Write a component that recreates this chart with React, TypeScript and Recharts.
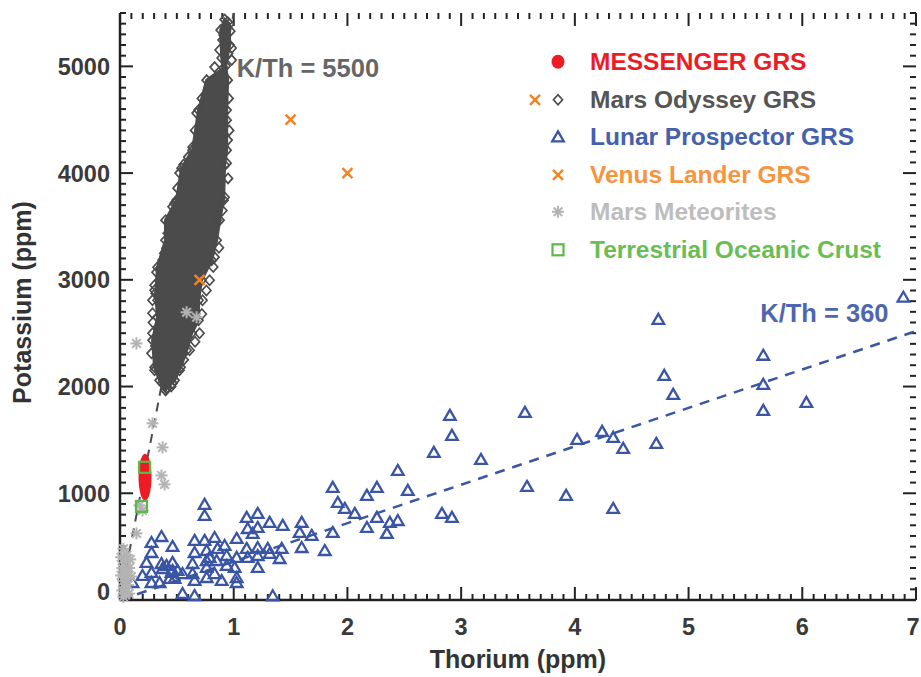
import { Legend, ReferenceDot, Scatter, ScatterChart, XAxis, YAxis } from "recharts";

const FONT = '"Liberation Sans", Arial, Helvetica, sans-serif';
const AXIS = "#222";
const TICK_TEXT = "#3a3a3a";

const RED = "#ed1c24";
const GRAY = "#4b4b4b";
const BLUE = "#3a55a5";
const ORANGE = "#f58220";
const LIGHT = "#b3b3b3";
const GREEN = "#5bb947";

// axes
const TH_DOMAIN = [0, 7];
const K_DOMAIN = [0, 5500];
const TH_MAJOR = [0, 1, 2, 3, 4, 5, 6, 7];
const K_MAJOR = [0, 1000, 2000, 3000, 4000, 5000];
const TH_TICKS = Array.from({ length: 71 }, (_, i) => i / 10);
const K_TICKS = Array.from({ length: 56 }, (_, i) => i * 100);

// K/Th ratios of the two reference lines
const KTH_MARS = 5500;
const KTH_MOON = 360;

// [Th, K]
const MESSENGER = [[0.22, 1150]];

// outline of the dense Mars Odyssey cloud
const ODYSSEY_CORE = [
  [0.41, 1983], [0.48, 2058], [0.533, 2180], [0.586, 2340], [0.63, 2499], [0.691, 2621],
  [0.691, 2809], [0.717, 2996], [0.806, 3184], [0.85, 3371], [0.876, 3559], [0.911, 3746],
  [0.92, 4074], [0.938, 4215], [0.938, 4590], [0.947, 4871], [0.929, 5003], [0.964, 5200],
  [0.962, 5397], [0.92, 5440], [0.885, 5340], [0.894, 5078], [0.911, 4984], [0.762, 4871],
  [0.691, 4590], [0.638, 4215], [0.541, 4046], [0.497, 3746], [0.4, 3559], [0.4, 3371],
  [0.33, 3118], [0.313, 2874], [0.33, 2649], [0.286, 2433], [0.304, 2180], [0.348, 2058],
  [0.401, 1964],
];

// single diamonds sticking out of the cloud
const ODYSSEY_EDGE = [
  [0.832, 4993], [0.858, 4890], [0.674, 4562], [0.638, 4243], [0.524, 4000], [0.506, 3859],
  [0.48, 3718], [0.436, 3399], [0.409, 3296], [0.365, 3118], [0.321, 3071], [0.304, 2902],
  [0.33, 2809], [0.286, 2687], [0.286, 2499], [0.277, 2311], [0.304, 2152], [0.374, 2030],
  [0.462, 2030], [0.982, 5172], [0.938, 4496], [0.947, 4309], [0.938, 4093], [0.92, 3774],
  [0.85, 3559], [0.832, 3212], [0.788, 2996], [0.726, 2809], [0.7, 2499], [0.612, 2340],
  [0.524, 2152], [0.947, 5416], [0.911, 5294], [0.982, 5059], [0.876, 5153], [0.902, 5247],
  [0.374, 3184], [0.304, 2949], [0.348, 2865], [0.286, 2809], [0.462, 3684], [0.497, 3730],
  [0.42, 3437], [0.6, 4150], [0.56, 4080], [0.66, 4400], [0.72, 4700], [0.79, 4820],
  [0.955, 4700], [0.96, 4400], [0.95, 3950], [0.9, 3650], [0.87, 3300], [0.82, 3120],
  [0.76, 2900], [0.72, 2680], [0.66, 2420], [0.56, 2250], [0.45, 2000], [0.29, 2600],
  [0.31, 2380], [0.35, 3000], [0.39, 3250], [0.45, 3550], [0.97, 5330], [0.95, 5120],
];

const LUNAR = [
  [0.744, 896], [0.744, 792], [0.277, 539], [0.365, 595], [0.462, 502], [0.277, 445],
  [0.233, 352], [0.198, 230], [0.11, 164], [0.277, 258], [0.277, 164], [0.348, 164],
  [0.365, 342], [0.409, 324], [0.453, 258], [0.48, 202], [0.436, 202], [0.506, 277],
  [0.55, 248], [0.55, 61], [0.656, 42], [0.656, 558], [0.656, 445], [0.638, 342],
  [0.638, 248], [0.656, 183], [0.744, 558], [0.762, 464], [0.762, 370], [0.762, 305],
  [0.762, 211], [0.832, 586], [0.858, 483], [0.85, 370], [0.832, 248], [0.92, 511],
  [0.938, 417], [0.938, 324], [0.894, 183], [1.026, 577], [1.026, 399], [1.008, 305],
  [1.026, 211], [1.026, 164], [1.114, 774], [1.123, 670], [1.211, 811], [1.211, 680],
  [1.167, 624], [1.114, 483], [1.123, 399], [1.211, 492], [1.211, 417], [1.211, 305],
  [1.316, 727], [1.299, 483], [1.316, 436], [1.343, 40], [1.422, 483], [1.404, 389],
  [1.431, 699], [1.598, 727], [1.58, 633], [1.598, 492], [1.686, 605], [1.801, 464],
  [1.871, 1055], [1.915, 914], [1.977, 858], [1.871, 633], [2.065, 811], [2.171, 980],
  [2.259, 1055], [2.171, 680], [2.259, 774], [2.443, 1214], [2.531, 1027], [2.373, 727],
  [2.443, 745], [2.347, 624], [2.76, 1383], [2.901, 1730], [2.919, 1543], [2.831, 811],
  [2.919, 774], [3.174, 1317], [3.561, 1758], [3.579, 1064], [3.923, 980], [4.02, 1505],
  [4.24, 1580], [4.337, 1524], [4.425, 1421], [4.337, 858], [4.716, 1467], [4.734, 2630],
  [4.786, 2105], [4.865, 1927], [5.657, 2293], [5.657, 2021], [5.657, 1777], [6.036, 1852],
  [6.889, 2837], [0.374, 295], [0.462, 352], [0.462, 277], [0.788, 399],
];

const VENUS = [[1.5, 4500], [2.0, 4000], [0.7, 3000]];

const METEORITES = [
  [0.145, 2404], [0.586, 2696], [0.674, 2649], [0.286, 1655], [0.374, 1430], [0.365, 1167],
  [0.392, 1083], [0.198, 839], [0.145, 624], [0.172, 886], [0.02, 90], [0.03, 180],
  [0.05, 260], [0.04, 350], [0.06, 420], [0.08, 300], [0.03, 480], [0.07, 140],
  [0.1, 220], [0.02, 300], [0.05, 60], [0.09, 380], [0.01, 230], [0.06, 200], [0.04, 120],
  [0.01, 400], [0.03, 30], [0.08, 60],
];

const OCEANIC_CRUST = [[0.216, 1243], [0.189, 877]];

const toPts = (rows: number[][]) => rows.map(([th, k]) => ({ th, k }));
const MARS_LINE = toPts([[0, 0], [1, KTH_MARS]]);
const MOON_LINE = toPts([[0, 0], [7, 7 * KTH_MOON]]);
const CORE = toPts([...ODYSSEY_CORE, ODYSSEY_CORE[0]]);

// inward tick marks on all four sides of the frame
const BOTTOM_MARKS = TH_TICKS.map((th) => ({ th, k: K_DOMAIN[0] }));
const TOP_MARKS = TH_TICKS.map((th) => ({ th, k: K_DOMAIN[1] }));
const LEFT_MARKS = K_TICKS.map((k) => ({ th: TH_DOMAIN[0], k }));
const RIGHT_MARKS = K_TICKS.map((k) => ({ th: TH_DOMAIN[1], k }));

const LEGEND = [
  { label: "MESSENGER GRS", text: RED, marker: "dot" },
  { label: "Mars Odyssey GRS", text: "#555", marker: "diamond" },
  { label: "Lunar Prospector GRS", text: "#4560ad", marker: "triangle" },
  { label: "Venus Lander GRS", text: "#f7943f", marker: "cross" },
  { label: "Mars Meteorites", text: "#bdbdbd", marker: "star" },
  { label: "Terrestrial Oceanic Crust", text: "#6abd54", marker: "square" },
];

const near = (list: number[], v: number) => list.some((m) => Math.abs(m - v) < 1e-6);

function Marker({ kind, cx, cy }: { kind: string; cx: number; cy: number }) {
  switch (kind) {
    case "dot":
      return <ellipse cx={cx} cy={cy} rx={6.5} ry={7} fill={RED} />;
    case "diamond":
      return (
        <polygon
          points={`${cx},${cy - 5} ${cx + 4.5},${cy} ${cx},${cy + 5} ${cx - 4.5},${cy}`}
          fill="none"
          stroke={GRAY}
          strokeWidth={1.7}
        />
      );
    case "triangle":
      return (
        <polygon
          points={`${cx},${cy - 5.5} ${cx + 5.8},${cy + 4.5} ${cx - 5.8},${cy + 4.5}`}
          fill="none"
          stroke={BLUE}
          strokeWidth={2.3}
        />
      );
    case "cross":
      return (
        <g stroke={ORANGE} strokeWidth={2.5}>
          <line x1={cx - 5} y1={cy - 5} x2={cx + 5} y2={cy + 5} />
          <line x1={cx - 5} y1={cy + 5} x2={cx + 5} y2={cy - 5} />
        </g>
      );
    case "star":
      return (
        <g stroke={LIGHT} strokeWidth={2}>
          <line x1={cx - 6} y1={cy} x2={cx + 6} y2={cy} />
          <line x1={cx} y1={cy - 6} x2={cx} y2={cy + 6} />
          <line x1={cx - 4.3} y1={cy - 4.3} x2={cx + 4.3} y2={cy + 4.3} />
          <line x1={cx - 4.3} y1={cy + 4.3} x2={cx + 4.3} y2={cy - 4.3} />
        </g>
      );
    case "square":
      return <rect x={cx - 5.5} y={cy - 5.5} width={11} height={11} fill="none" stroke={GREEN} strokeWidth={2.2} />;
    default:
      return <g />;
  }
}

const shapeOf = (kind: string) => (p: any) => <Marker kind={kind} cx={p.cx} cy={p.cy} />;

// tick mark pointing into the plot; dx/dy give the direction
const tickMark = (dx: number, dy: number, axis: "th" | "k") => (p: any) => {
  const major = near(axis === "th" ? TH_MAJOR : K_MAJOR, p.payload[axis]);
  const len = major ? 13 : 6;
  return <line x1={p.cx} y1={p.cy} x2={p.cx + dx * len} y2={p.cy + dy * len} stroke={AXIS} strokeWidth={2} />;
};

function LegendBox() {
  return (
    <div style={{ fontFamily: FONT, fontWeight: 700, fontSize: 24.5 }}>
      {LEGEND.map((item) => (
        <div key={item.label} style={{ display: "flex", alignItems: "center", height: 37.6, color: item.text }}>
          <svg width={70} height={37.6} style={{ flex: "none" }}>
            {item.marker === "diamond" && <Marker kind="cross" cx={15} cy={18.8} />}
            <Marker kind={item.marker} cx={38} cy={18.8} />
          </svg>
          <span style={{ lineHeight: "37.6px", whiteSpace: "nowrap" }}>{item.label}</span>
        </div>
      ))}
    </div>
  );
}

const tickText = { fill: TICK_TEXT, fontSize: 23.5, fontWeight: 700, fontFamily: FONT };

function BottomLabel({ x, y, payload }: any) {
  if (!near(TH_MAJOR, payload.value)) return <g />;
  const v = Math.round(payload.value);
  return (
    <text x={v === TH_DOMAIN[1] ? x - 3 : x} y={y + 35} textAnchor="middle" {...tickText}>
      {v}
    </text>
  );
}

function LeftLabel({ x, y, payload }: any) {
  if (!near(K_MAJOR, payload.value)) return <g />;
  return (
    <text x={x - 10} y={payload.value === 0 ? y : y + 8.5} textAnchor="end" {...tickText}>
      {payload.value}
    </text>
  );
}

const axisLine = { stroke: AXIS, strokeWidth: 2.5 };
const labelFont = { fontSize: 25.5, fontWeight: 700, fontFamily: FONT };
const axisCommon = { type: "number" as const, interval: 0, tickLine: false, tickSize: 0, tickMargin: 0, axisLine };

export default function App() {
  return (
    <div style={{ width: 921, height: 677 }}>
      <style>{"body{margin:0}"}</style>
      <ScatterChart width={921} height={677} margin={{ top: 13, right: 5, bottom: 0, left: 0 }}>
        <XAxis
          {...axisCommon}
          dataKey="th"
          domain={TH_DOMAIN}
          ticks={TH_TICKS}
          tick={(p: any) => <BottomLabel {...p} />}
          height={77}
          label={{
            content: ({ viewBox }: any) => (
              <text
                x={viewBox.x + viewBox.width / 2}
                y={viewBox.y + 68}
                textAnchor="middle"
                fill="#333"
                fontSize={25}
                fontWeight={700}
                fontFamily={FONT}
              >
                Thorium (ppm)
              </text>
            ),
          }}
        />
        <XAxis
          {...axisCommon}
          xAxisId="top"
          orientation="top"
          domain={TH_DOMAIN}
          ticks={TH_TICKS}
          tick={false}
          height={0}
          allowDataOverflow
        />
        <YAxis
          {...axisCommon}
          dataKey="k"
          domain={K_DOMAIN}
          ticks={K_TICKS}
          tick={(p: any) => <LeftLabel {...p} />}
          width={120}
          label={{
            content: ({ viewBox }: any) => {
              const cx = viewBox.x + 22;
              const cy = viewBox.y + viewBox.height / 2 - 4;
              return (
                <text
                  x={cx}
                  y={cy}
                  transform={`rotate(-90, ${cx}, ${cy})`}
                  textAnchor="middle"
                  dominantBaseline="central"
                  fill="#333"
                  fontSize={25}
                  fontWeight={700}
                  fontFamily={FONT}
                >
                  Potassium (ppm)
                </text>
              );
            },
          }}
        />
        <YAxis
          {...axisCommon}
          yAxisId="right"
          orientation="right"
          domain={K_DOMAIN}
          ticks={K_TICKS}
          tick={false}
          width={0}
          allowDataOverflow
        />

        <Scatter data={BOTTOM_MARKS} shape={tickMark(0, -1, "th")} isAnimationActive={false} />
        <Scatter data={TOP_MARKS} shape={tickMark(0, 1, "th")} isAnimationActive={false} />
        <Scatter data={LEFT_MARKS} shape={tickMark(1, 0, "k")} isAnimationActive={false} />
        <Scatter data={RIGHT_MARKS} shape={tickMark(-1, 0, "k")} isAnimationActive={false} />

        <Scatter
          data={MARS_LINE}
          line={{ stroke: GRAY, strokeWidth: 2, strokeDasharray: "9 7" }}
          lineType="joint"
          shape={() => <g />}
          isAnimationActive={false}
        />
        <Scatter
          data={MOON_LINE}
          line={{ stroke: BLUE, strokeWidth: 2.5, strokeDasharray: "10 8" }}
          lineType="joint"
          shape={() => <g />}
          isAnimationActive={false}
        />
        <Scatter
          data={CORE}
          line={{ stroke: GRAY, strokeWidth: 3, fill: GRAY }}
          lineType="joint"
          shape={shapeOf("diamond")}
          isAnimationActive={false}
        />
        <Scatter data={toPts(ODYSSEY_EDGE)} shape={shapeOf("diamond")} isAnimationActive={false} />
        <Scatter data={toPts(LUNAR)} shape={shapeOf("triangle")} isAnimationActive={false} />
        <Scatter data={toPts(METEORITES)} shape={shapeOf("star")} isAnimationActive={false} />
        <Scatter data={toPts(VENUS)} shape={shapeOf("cross")} isAnimationActive={false} />
        <Scatter
          data={toPts(MESSENGER)}
          shape={(p: any) => <ellipse cx={p.cx} cy={p.cy} rx={6.5} ry={23.5} fill={RED} />}
          isAnimationActive={false}
        />
        <Scatter data={toPts(OCEANIC_CRUST)} shape={shapeOf("square")} isAnimationActive={false} />

        <ReferenceDot
          x={1.017}
          y={4984}
          r={1}
          fill="none"
          stroke="none"
          label={{ value: "K/Th = 5500", position: "right", offset: 0, fill: "#666", ...labelFont }}
        />
        <ReferenceDot
          x={6.767}
          y={2687}
          r={1}
          fill="none"
          stroke="none"
          label={{ value: "K/Th = 360", position: "left", offset: 0, fill: "#4d66b0", ...labelFont }}
        />

        <Legend
          layout="vertical"
          align="center"
          verticalAlign="middle"
          wrapperStyle={{ left: 520, top: 43, width: 400 }}
          content={() => <LegendBox />}
        />
      </ScatterChart>
    </div>
  );
}
